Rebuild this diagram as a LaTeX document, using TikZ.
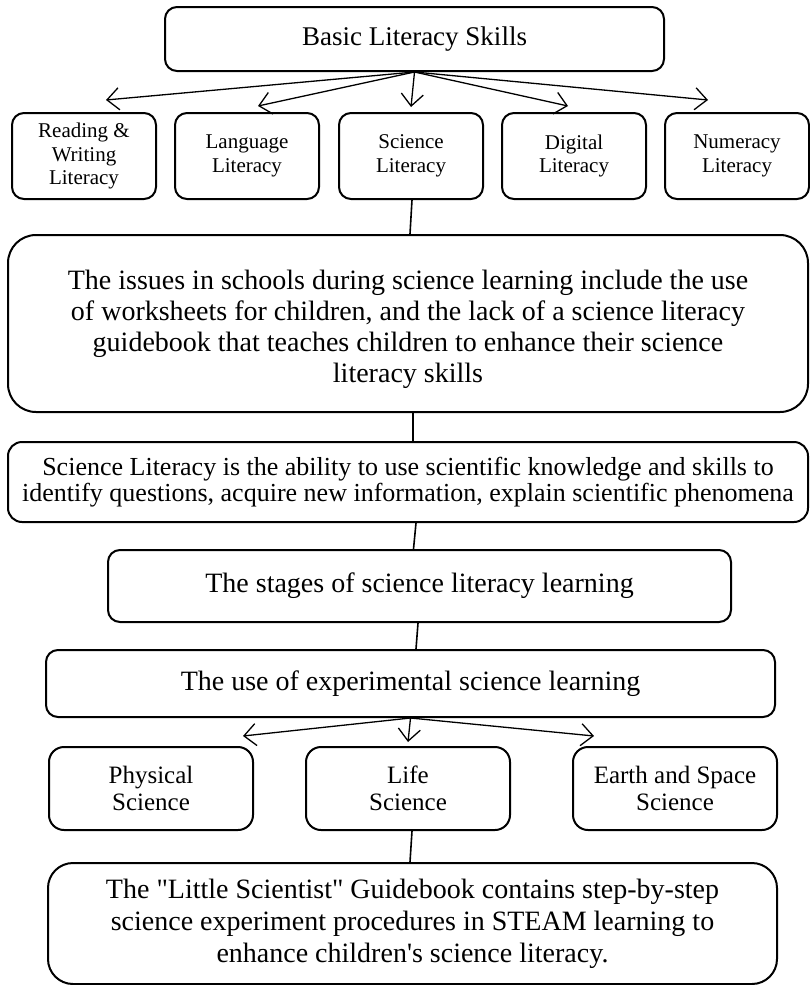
\documentclass[tikz,border=0pt]{standalone}
\usepackage{fontspec}
\setmainfont{Liberation Serif}[Ligatures=TeXOff]
\usetikzlibrary{arrows.meta}

\begin{document}
\begin{tikzpicture}[x=1pt, y=-1pt,
      every node/.style = {shape=rectangle, rounded corners=12pt,
        draw, line width=2pt, align=center, inner sep=0pt,
        font=\fontsize{28}{31}\selectfont},
      small/.style = {minimum width=144pt, minimum height=86pt,
        font=\fontsize{21}{23.5}\selectfont},
      sub/.style = {minimum width=204pt, minimum height=83pt,
        rounded corners=15pt, font=\fontsize{25}{27}\selectfont},
      arr/.style = {line width=1.3pt, -{Straight Barb[length=12pt,width=22pt]}},
      link/.style = {line width=1.6pt}]
      \useasboundingbox (0,0) rectangle (810,985);
      \node (basic) [minimum width=499pt, minimum height=64pt,
        font=\fontsize{27}{30}\selectfont] at (414.5,39) {Basic Literacy Skills};
      \node (read) [small] at (84,156) {Reading \&\\Writing\\Literacy};
      \node (lang) [small] at (247,156) {Language\\Literacy};
      \node (sci)  [small] at (411,156) {Science\\Literacy};
      \node (dig)  [small] at (574,156) {Digital\\Literacy};
      \node (num)  [small] at (737,156) {Numeracy\\Literacy};
      \node (issues) [minimum width=800pt, minimum height=177pt,
        rounded corners=28pt] at (408,323.5)
        {\rule{0pt}{32pt}The issues in schools during science learning include the use\\
         of worksheets for children, and the lack of a science literacy\\
         guidebook that teaches children to enhance their science\\
         literacy skills};
      \node (def) [minimum width=800pt, minimum height=80pt, rounded corners=14pt,
        font=\fontsize{26}{26}\selectfont] at (408,482)
        {Science Literacy is the ability to use scientific knowledge and skills to\\
         identify questions, acquire new information, explain scientific phenomena};
      \node (stages) [minimum width=623pt, minimum height=72pt] at (419.5,586)
        {The stages of science literacy learning};
      \node (exper) [minimum width=729pt, minimum height=67pt] at (410.5,683.5)
        {The use of experimental science learning};
      \node (phys)  [sub] at (151,788.5) {Physical\\Science};
      \node (life)  [sub] at (408,788.5) {Life\\Science};
      \node (earth) [sub] at (675,788.5) {Earth and Space\\Science};
      \node (guide) [minimum width=729pt, minimum height=121pt, rounded corners=25pt,
        font=\fontsize{28}{32}\selectfont] at (412.5,923.5)
        {The "Little Scientist" Guidebook contains step-by-step\\
         science experiment procedures in STEAM learning to\\
         enhance children's science literacy.};
      \draw[arr] (basic.south) -- ([xshift=22pt,yshift=12pt]read.north);
      \draw[arr] (basic.south) -- ([xshift=11pt,yshift=6pt]lang.north);
      \draw[arr] (basic.south) -- ([yshift=5pt]sci.north);
      \draw[arr] (basic.south) -- ([xshift=-6pt,yshift=6pt]dig.north);
      \draw[arr] (basic.south) -- ([xshift=-29pt,yshift=12pt]num.north);
      \draw[link] ([xshift=1pt]sci.south) -- ([xshift=2pt]issues.north);
      \draw[link] ([xshift=5pt]issues.south) -- ([xshift=5pt]def.north);
      \draw[link] ([xshift=8pt]def.south) -- ([xshift=-6pt]stages.north);
      \draw[link] ([xshift=-1.5pt]stages.south) -- ([xshift=5.5pt]exper.north);
      \draw[arr] (exper.south) -- ([xshift=92pt,yshift=10pt]phys.north);
      \draw[arr] (exper.south) -- ([yshift=4pt]life.north);
      \draw[arr] (exper.south) -- ([xshift=-81pt,yshift=10pt]earth.north);
      \draw[link] ([xshift=4pt]life.south) -- ([xshift=-2.5pt]guide.north);
  \end{tikzpicture}
\end{document}
